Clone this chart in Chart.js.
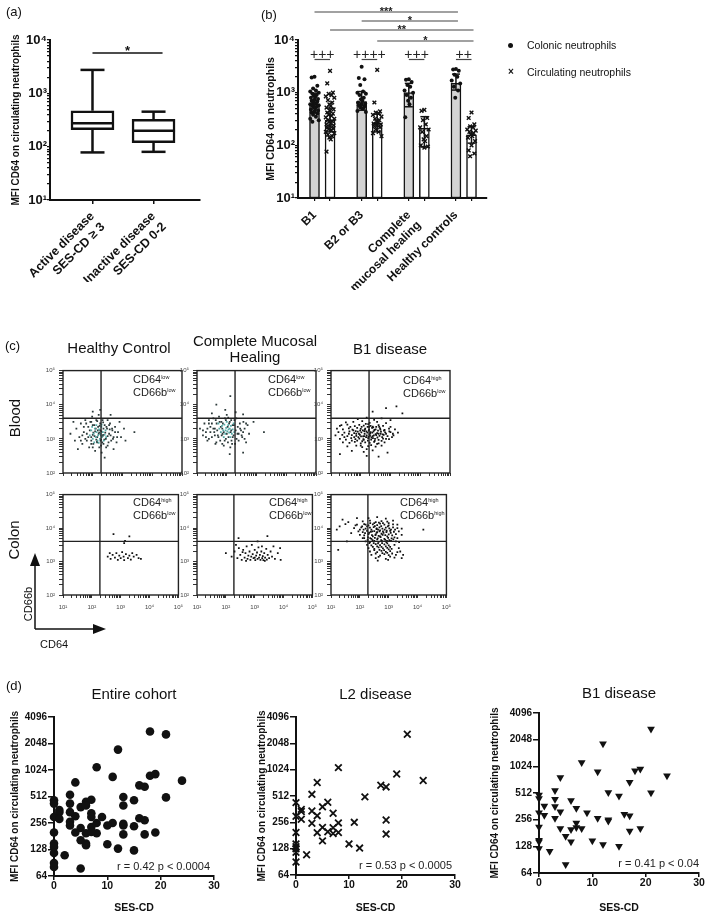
<!DOCTYPE html>
<html><head><meta charset="utf-8"><title>CD64 on neutrophils</title>
<script src="https://cdn.jsdelivr.net/npm/chart.js@4.4.1/dist/chart.umd.min.js"></script>
<style>
html,body{margin:0;padding:0;background:#fff}
body{width:709px;height:918px;position:relative;overflow:hidden;font-family:"Liberation Sans",Arial,Helvetica,sans-serif;color:#111}
.t{position:absolute;white-space:nowrap;line-height:1;filter:grayscale(1)}
.rot{position:absolute;white-space:nowrap;line-height:1;transform:translate(-50%,-50%) rotate(-90deg);filter:grayscale(1)}
.q{position:absolute;white-space:nowrap;font-size:11px;line-height:13px;color:#222;filter:grayscale(1)}
.q sup{font-size:5.5px;vertical-align:4px;line-height:0}
canvas{position:absolute}
</style></head><body>
<div class="t" style="left:6px;top:5px;font-size:13px">(a)</div>
<div class="t" style="left:261px;top:8px;font-size:13px">(b)</div>
<div class="t" style="left:5px;top:339px;font-size:13px">(c)</div>
<div class="t" style="left:6px;top:679px;font-size:13px">(d)</div>

<div style="position:absolute;left:508px;top:43px;width:5px;height:5px;border-radius:50%;background:#111"></div>
<div class="t" style="left:527px;top:40px;font-size:10.5px">Colonic neutrophils</div>
<div class="t" style="left:508px;top:67px;font-size:10px;font-weight:bold">×</div>
<div class="t" style="left:527px;top:67px;font-size:10.5px">Circulating neutrophils</div>

<div class="t" style="left:49px;top:340px;width:140px;text-align:center;font-size:15px">Healthy Control</div>
<div class="t" style="left:175px;top:333px;width:160px;text-align:center;font-size:15px;line-height:16px">Complete Mucosal<br>Healing</div>
<div class="t" style="left:330px;top:341px;width:120px;text-align:center;font-size:15px">B1 disease</div>
<div class="rot" style="left:14px;top:418px;font-size:15px">Blood</div>
<div class="rot" style="left:13px;top:540px;font-size:15px">Colon</div>

<div class="q" style="left:133px;top:373px">CD64<sup>low</sup><br>CD66b<sup>low</sup></div>
<div class="q" style="left:268px;top:373px">CD64<sup>low</sup><br>CD66b<sup>low</sup></div>
<div class="q" style="left:403px;top:374px">CD64<sup>high</sup><br>CD66b<sup>low</sup></div>
<div class="q" style="left:133px;top:496px">CD64<sup>high</sup><br>CD66b<sup>low</sup></div>
<div class="q" style="left:269px;top:496px">CD64<sup>high</sup><br>CD66b<sup>low</sup></div>
<div class="q" style="left:400px;top:496px">CD64<sup>high</sup><br>CD66b<sup>high</sup></div>

<svg style="position:absolute;left:0;top:540px" width="120" height="100">
<line x1="35" y1="89" x2="35" y2="24" stroke="#111" stroke-width="1.5"/>
<polygon points="35,13 30,26 40,26" fill="#111"/>
<line x1="35" y1="89" x2="95" y2="89" stroke="#111" stroke-width="1.5"/>
<polygon points="106,89 93,84 93,94" fill="#111"/>
</svg>
<div class="rot" style="left:28px;top:604px;font-size:11px">CD66b</div>
<div class="t" style="left:40px;top:639px;font-size:11px">CD64</div>

<script>
// ================= DATA =================
// (a) box plot
const boxGroups = [['Active disease', 'SES-CD ≥ 3'], ['Inactive disease', 'SES-CD 0-2']];
const boxMin    = [78, 80];
const boxQ1     = [208, 119];
const boxMedian = [274, 199];
const boxQ3     = [472, 324];
const boxMax    = [2750, 453];
const boxSignif = '*';

// (b) bars with individual points
const barGroups   = ['B1', 'B2 or B3', ['Complete', 'mucosal healing'], 'Healthy controls'];
const seriesNames = ['Colonic neutrophils', 'Circulating neutrophils'];
const colonicMean   = [600, 680, 1000, 1510];
const colonicSdLow  = [410, 465, 540, 1120];
const colonicSdHigh = [980, 1050, 1500, 2250];
const circMean      = [300, 265, 210, 158];
const circSdLow     = [180, 180, 93, 110];
const circSdHigh    = [510, 390, 350, 225];
const colonicPoints = [
  [2000,1950,1350,1200,1100,1050,1000,950,900,870,830,800,760,730,700,680,650,630,600,580,560,540,520,500,480,460,440,420,400,380,350,320,300,280],
  [3100,1900,1800,1400,1050,1000,950,900,800,750,700,650,620,600,580,550,520,500,450,430],
  [1800,1750,1600,1400,1300,1100,1000,900,800,700,600,340],
  [2800,2750,2600,2200,2000,1700,1500,1300,1100,800]
];
const circPoints = [
  [2600,1500,1000,950,900,850,800,720,650,600,560,520,480,450,420,400,380,360,340,320,300,290,280,260,250,240,230,220,210,200,190,180,170,160,150,140,130,76],
  [2700,650,440,420,400,380,350,320,300,280,270,260,250,240,230,220,200,180,170,150],
  [470,450,330,300,250,220,200,180,150,130,120,100,95,90],
  [420,330,250,230,220,200,190,180,170,160,150,140,120,100,80,70,62]
];
const pairSignif  = ['+++', '++++', '+++', '++'];
const crossSignif = [
  {a: [0, 0], b: [3, 0], label: '***'},
  {a: [1, 0], b: [3, 0], label: '*'},
  {a: [0, 1], b: [3, 1], label: '**'},
  {a: [1, 1], b: [3, 1], label: '*'}
];

// (c) flow cytometry events as [log10 CD64, log10 CD66b]
const gateCD64 = 190, gateCD66b = 4000;
const hcBloodCore = [[1.9,3.1],[1.95,3.25],[2.0,3.0],[2.03,3.15],[2.07,3.3],[2.1,3.05],[2.13,3.2],[2.16,2.95],[2.18,3.1],[2.21,3.28],[2.24,3.0],[2.26,3.15],[2.29,3.35],[2.31,3.05],[2.34,3.2],[2.37,2.95],[2.4,3.12],[2.43,3.25],[2.12,3.4],[2.2,2.88],[2.05,2.9],[2.3,3.42],[2.45,3.05],[1.98,3.35],[2.27,3.1]];
const hcBloodPts = [[1.25,3.15],[1.4,2.95],[1.45,3.3],[1.55,3.05],[1.6,3.45],[1.65,2.85],[1.7,3.2],[1.75,3.55],[1.8,2.95],[1.85,3.35],[1.88,2.75],[1.92,3.5],[1.95,3.05],[1.98,3.65],[2.02,2.85],[2.05,3.4],[2.08,2.65],[2.12,3.55],[2.15,2.9],[2.2,3.7],[2.22,2.75],[2.25,3.45],[2.3,2.6],[2.33,3.55],[2.36,2.85],[2.4,3.4],[2.44,3.0],[2.48,3.3],[2.5,2.8],[2.55,3.15],[2.58,3.45],[2.62,2.95],[2.66,3.25],[2.7,3.05],[2.75,3.35],[2.8,2.9],[2.85,3.2],[2.95,3.05],[3.05,3.3],[3.4,3.2],[1.5,2.7],[2.0,3.8],[2.6,3.7],[2.4,2.45],[2.25,3.85],[1.35,3.5],[2.9,3.5],[1.8,3.15],[2.7,2.7],[3.1,2.95],[2.0,3.12],[2.08,3.22],[2.15,3.05],[2.22,3.18],[2.28,2.98],[2.35,3.12],[2.12,2.98],[2.25,3.25],[2.18,3.35],[2.32,2.9],
  [1.85,3.05],[1.9,3.25],[1.95,2.95],[2.0,3.4],[2.02,3.18],[2.06,3.08],[2.1,3.3],[2.14,2.92],[2.17,3.25],[2.2,3.15],[2.23,3.38],[2.26,2.95],[2.29,3.22],[2.33,3.08],[2.36,3.3],[2.39,2.98],[2.42,3.18],[2.46,3.35],[2.5,3.08],[2.53,2.9],[2.57,3.28],[2.6,3.1],[1.7,3.35],[1.75,3.0],[1.78,3.45],[1.95,3.5],[2.15,3.52],[2.35,3.48],[2.5,3.55],[2.65,3.3],[2.68,3.0],[1.65,3.1],[1.6,2.95],[2.0,2.75],[2.28,2.8],[2.45,2.75],[2.75,3.2],[2.82,3.05],[1.95,2.85],[2.55,3.4]];
const cmhBloodCore = [[1.75,3.3],[1.8,3.2],[1.84,3.38],[1.88,3.25],[1.92,3.42],[1.95,3.15],[1.98,3.32],[2.02,3.22],[2.05,3.4],[2.08,3.18],[2.1,3.3],[2.14,3.38],[2.17,3.15],[2.2,3.28],[2.23,3.45],[1.9,3.05],[2.0,3.5],[2.12,3.05],[1.72,3.45],[2.25,3.2],[1.96,3.25],[2.06,3.28]];
const cmhBloodPts = [[1.1,3.3],[1.2,3.1],[1.25,3.45],[1.3,3.2],[1.35,2.95],[1.4,3.55],[1.45,3.35],[1.5,3.05],[1.55,3.6],[1.58,3.2],[1.62,2.85],[1.66,3.45],[1.7,3.1],[1.74,3.65],[1.78,2.95],[1.82,3.5],[1.86,3.15],[1.9,2.8],[1.94,3.6],[1.97,3.0],[2.0,3.7],[2.04,2.9],[2.08,3.45],[2.12,2.75],[2.15,3.55],[2.2,3.05],[2.24,3.4],[2.28,2.85],[2.32,3.6],[2.36,3.15],[2.4,2.95],[2.44,3.45],[2.48,3.25],[2.52,3.05],[2.56,3.5],[2.6,3.3],[2.65,2.9],[2.7,3.4],[2.75,3.15],[1.5,3.75],[1.95,3.85],[2.3,3.78],[2.55,3.72],[3.25,3.2],[2.55,2.6],[2.1,2.55],[1.6,3.3],[1.85,3.3],[2.15,3.25],[1.4,3.0],[2.12,4.25],[2.9,3.5],[1.65,4.0],
  [1.45,3.2],[1.5,3.45],[1.55,3.3],[1.6,3.1],[1.63,3.55],[1.68,3.25],[1.72,3.05],[1.76,3.5],[1.8,3.35],[1.83,3.1],[1.87,3.45],[1.9,3.2],[1.93,2.95],[1.97,3.55],[2.0,3.15],[2.03,3.35],[2.06,3.05],[2.1,3.5],[2.13,3.2],[2.16,2.95],[2.2,3.4],[2.23,3.1],[2.26,3.55],[2.3,3.25],[2.33,3.0],[2.37,3.35],[2.4,3.15],[2.45,3.3],[2.5,3.1],[2.55,3.2],[1.35,3.3],[1.3,3.05],[1.4,3.45],[1.2,3.25],[1.65,2.9],[1.85,2.85],[2.18,2.85],[2.6,3.0],[2.65,3.45],[2.05,3.62]];
const b1BloodPts = [[1.9,3.58],[2.2,3.62],[2.45,3.56],[2.7,3.6],[3.0,3.55],[1.5,3.48],[1.75,3.5],[2.05,3.52],[2.3,3.47],[2.55,3.5],[2.85,3.46],[1.3,3.38],[1.55,3.42],[1.8,3.37],[1.95,3.41],[2.1,3.39],[2.25,3.43],[2.4,3.36],[2.6,3.4],[2.75,3.38],[3.0,3.35],[1.2,3.3],[1.4,3.28],[1.6,3.31],[1.72,3.27],[1.88,3.32],[2.0,3.29],[2.15,3.3],[2.28,3.27],[2.38,3.32],[2.5,3.28],[2.65,3.31],[2.8,3.26],[2.95,3.3],[3.15,3.28],[1.25,3.2],[1.45,3.18],[1.62,3.22],[1.78,3.17],[1.9,3.21],[2.02,3.19],[2.12,3.23],[2.22,3.18],[2.33,3.2],[2.43,3.22],[2.55,3.17],[2.68,3.21],[2.82,3.19],[3.0,3.2],[3.25,3.18],[1.15,3.1],[1.38,3.12],[1.55,3.08],[1.7,3.11],[1.85,3.09],[1.97,3.12],[2.08,3.07],[2.2,3.1],[2.3,3.13],[2.4,3.08],[2.52,3.11],[2.63,3.09],[2.77,3.12],[2.9,3.08],[3.1,3.1],[1.3,3.0],[1.5,2.98],[1.68,3.02],[1.82,2.99],[1.95,3.01],[2.1,2.97],[2.25,3.02],[2.35,2.98],[2.48,3.0],[2.6,2.97],[2.75,3.01],[2.95,2.99],[1.4,2.9],[1.62,2.88],[1.8,2.91],[2.0,2.87],[2.15,2.9],[2.3,2.88],[2.45,2.91],[2.6,2.87],[2.8,2.9],[1.55,2.78],[1.85,2.8],[2.05,2.76],[2.25,2.79],[2.5,2.77],[2.7,2.8],[1.7,2.65],[2.1,2.62],[2.4,2.66],[2.9,2.6],[2.2,2.5],[2.6,2.48],[1.3,2.55],[3.2,3.95],[2.85,3.9],[3.4,3.75],[2.4,3.8],
  [1.65,3.35],[1.75,3.25],[1.85,3.15],[1.92,3.05],[2.03,3.35],[2.07,3.25],[2.13,3.15],[2.18,3.05],[2.23,3.35],[2.27,3.24],[2.32,3.16],[2.36,3.04],[2.42,3.34],[2.46,3.26],[2.5,3.14],[2.56,3.04],[2.62,3.35],[2.67,3.15],[2.72,3.05],[2.78,3.24],[1.78,3.05],[1.88,2.95],[1.98,3.24],[2.05,2.93],[2.17,3.44],[2.33,3.38],[2.47,2.94],[2.58,3.24],[2.7,2.94],[2.85,3.15],[1.6,3.15],[1.7,2.95],[2.0,2.8],[2.2,2.7],[2.35,2.82],[2.55,2.85],[2.85,3.0],[3.05,3.05],[1.45,3.05],[1.35,3.4],[2.12,3.08],[2.26,3.06],[2.39,3.18],[2.14,3.27],[2.28,3.35],[1.94,3.15],[2.44,3.1],[2.6,3.15],[2.01,3.07],[2.52,3.35],[2.09,2.99],[2.19,3.22],[2.31,3.09],[2.41,3.02],[1.83,3.23],[2.66,3.27],[2.74,3.13],[2.24,2.95],[2.96,3.22],[3.08,3.15]];
const hcColonPts = [[2.55,3.15],[2.65,3.08],[2.72,3.2],[2.8,3.12],[2.85,3.25],[2.9,3.05],[2.95,3.18],[3.0,3.1],[3.05,3.28],[3.1,3.15],[3.12,3.04],[3.18,3.22],[3.25,3.1],[3.3,3.18],[3.35,3.06],[3.45,3.15],[3.55,3.2],[3.62,3.1],[3.7,3.08],[2.75,3.82],[3.15,3.62],[3.3,3.75],[3.12,3.55],[2.62,3.25],[3.4,3.25]];
const cmhColonPts = [[2.0,3.25],[2.2,3.15],[2.3,3.3],[2.4,3.1],[2.45,3.4],[2.5,3.2],[2.55,3.05],[2.6,3.35],[2.65,3.12],[2.68,3.25],[2.72,3.45],[2.75,3.08],[2.78,3.18],[2.82,3.3],[2.85,3.05],[2.88,3.15],[2.9,3.5],[2.93,3.22],[2.96,3.1],[3.0,3.35],[3.02,3.04],[3.05,3.18],[3.08,3.27],[3.1,3.08],[3.13,3.42],[3.15,3.12],[3.18,3.2],[3.2,3.05],[3.23,3.3],[3.26,3.1],[3.28,3.16],[3.3,3.04],[3.33,3.25],[3.36,3.12],[3.4,3.38],[3.42,3.06],[3.45,3.2],[3.5,3.1],[3.55,3.3],[3.6,3.15],[3.65,3.45],[3.7,3.08],[3.8,3.25],[3.88,3.4],[3.9,3.05],[2.44,3.7],[3.44,3.76],[3.1,3.6],[2.35,3.5],[3.0,3.12],[2.7,3.02],[3.35,3.02],[3.25,3.45],[2.58,3.28]];
const b1ColonPts = [[2.3,4.3],[2.6,4.33],[2.9,4.28],[1.4,4.25],[2.1,4.2],[2.35,4.22],[2.55,4.18],[2.75,4.21],[2.95,4.19],[3.15,4.22],[1.6,4.18],[1.9,4.1],[2.15,4.12],[2.3,4.08],[2.45,4.11],[2.6,4.09],[2.7,4.13],[2.85,4.1],[3.0,4.08],[3.15,4.11],[3.3,4.1],[1.8,4.0],[2.05,4.02],[2.2,3.98],[2.35,4.01],[2.48,4.03],[2.58,3.99],[2.68,4.02],[2.78,3.98],[2.9,4.01],[3.02,3.99],[3.15,4.02],[3.3,4.0],[3.45,3.98],[1.95,3.9],[2.1,3.88],[2.25,3.92],[2.38,3.89],[2.5,3.91],[2.6,3.88],[2.7,3.93],[2.8,3.9],[2.92,3.88],[3.05,3.92],[3.18,3.89],[3.35,3.9],[2.0,3.8],[2.15,3.78],[2.3,3.82],[2.42,3.79],[2.55,3.81],[2.65,3.77],[2.75,3.83],[2.88,3.79],[3.0,3.81],[3.12,3.78],[3.25,3.82],[3.45,3.8],[2.1,3.7],[2.28,3.72],[2.4,3.68],[2.52,3.71],[2.62,3.69],[2.72,3.73],[2.85,3.68],[2.98,3.71],[3.1,3.69],[3.3,3.7],[2.2,3.6],[2.35,3.58],[2.5,3.62],[2.65,3.59],[2.78,3.61],[2.92,3.58],[3.08,3.62],[3.25,3.6],[2.25,3.5],[2.4,3.48],[2.55,3.52],[2.7,3.49],[2.85,3.51],[3.0,3.48],[3.2,3.5],[2.3,3.4],[2.5,3.38],[2.65,3.42],[2.8,3.39],[2.95,3.41],[3.1,3.38],[3.35,3.4],[2.35,3.3],[2.6,3.28],[2.75,3.32],[2.9,3.29],[3.05,3.31],[3.3,3.28],[2.4,3.2],[2.7,3.18],[2.85,3.22],[3.0,3.19],[3.25,3.2],[2.55,3.1],[2.9,3.08],[3.2,3.12],[3.45,3.1],[1.3,4.05],[1.2,3.95],[1.5,4.12],[1.25,3.35],[1.7,3.85],[1.55,3.6],[4.2,3.95],
  [2.25,4.05],[2.4,3.95],[2.52,4.06],[2.63,3.95],[2.74,4.06],[2.86,3.95],[2.97,4.05],[3.08,3.95],[2.32,3.86],[2.45,3.75],[2.58,3.86],[2.7,3.75],[2.82,3.86],[2.95,3.75],[3.07,3.86],[2.18,3.85],[2.27,3.65],[2.44,3.64],[2.6,3.66],[2.74,3.64],[2.88,3.65],[3.02,3.64],[3.16,3.66],[2.36,4.15],[2.5,4.15],[2.66,4.16],[2.8,4.15],[3.0,4.15],[2.2,4.1],[3.22,3.95],[2.33,3.55],[2.48,3.55],[2.63,3.54],[2.77,3.55],[2.95,3.54],[2.45,3.44],[2.6,3.45],[2.75,3.44],[2.9,3.45],[3.05,3.44],[2.5,3.34],[2.68,3.35],[2.84,3.34],[3.0,3.36],[2.55,3.24],[2.78,3.25],[2.95,3.26],[3.12,3.24],[2.65,3.14],[3.05,3.15],[2.0,3.95],[2.08,4.05],[1.85,4.08],[2.13,3.95],[2.58,3.97],[2.68,3.9],[2.43,3.9],[2.93,3.92],[2.54,3.79],[2.79,3.8],[3.2,3.72],[2.15,3.7],[2.36,3.7],[2.94,3.62],[3.36,3.58],[3.4,3.3],[2.98,3.05],[2.62,3.03],[3.5,3.2],[1.9,4.3]];

// (d) correlations
const scatterTitles = ['Entire cohort', 'L2 disease', 'B1 disease'];
const corrLabels = ['r = 0.42 p < 0.0004', 'r = 0.53 p < 0.0005', 'r = 0.41 p < 0.04'];
const log2Ticks = [64, 128, 256, 512, 1024, 2048, 4096];
const cohortSes = [18,21,12,8,11,18,19,24,4,16,17,3,13,21,0,0,0,0,0,0,0,0,0,15,7,6,3,13,5,6,1,1,4,3,7,7,9,16,17,1,3,3,11,10,13,13,15,5,7,8,6,8,4,7,13,17,19,5,6,6,10,12,15,2,5];
const cohortMfi = [2800,2600,1745,1100,855,880,920,775,740,685,660,535,505,500,465,425,300,200,150,137,117,90,81,465,470,445,425,405,388,405,360,340,305,340,330,300,300,290,275,285,265,240,256,240,250,240,235,225,230,256,196,196,200,203,190,190,200,163,150,143,147,131,125,110,78];
const l2Ses = [21,8,19,24,4,16,17,3,13,6,0,5,1,1,3,7,4,0,1,17,11,3,8,5,7,0,4,6,7,8,17,5,10,0,0,0,12,2,0,0];
const l2Mfi = [2600,1080,915,770,730,680,650,535,500,435,430,385,360,340,345,325,305,300,278,272,256,250,252,224,222,196,195,200,191,196,188,157,145,145,135,128,130,109,90,116];
const b1Ses = [21,12,8,11,18,19,24,4,17,3,13,21,15,0,0,3,6,1,3,7,4,0,9,1,16,17,11,13,13,3,7,0,4,6,7,8,19,17,5,6,0,0,10,12,15,0,2,5];
const b1Mfi = [2700,1840,1130,890,915,955,800,765,675,545,520,515,475,485,445,435,420,365,360,345,315,306,306,288,295,283,265,256,248,265,235,212,204,198,209,204,204,191,166,144,150,144,148,134,128,121,113,80];

// ================= HELPERS =================
const FONT = '"Liberation Sans", Arial, Helvetica, sans-serif';
Chart.defaults.font.family = FONT;
Chart.defaults.color = '#111';
Chart.defaults.animation = false;
Chart.defaults.events = [];
Chart.defaults.plugins.legend.display = false;
Chart.defaults.plugins.tooltip.enabled = false;

const SUP = {'0':'⁰','1':'¹','2':'²','3':'³','4':'⁴','5':'⁵','6':'⁶'};
function pow10Label(v) {
  const e = Math.log10(v), r = Math.round(e);
  return Math.abs(e - r) < 1e-6 ? '10' + String(r).split('').map(c => SUP[c]).join('') : '';
}
function logTicks(minE, maxE) {
  const t = [];
  for (let e = minE; e < maxE; e++) for (let k = 1; k < 10; k++) t.push({value: k * Math.pow(10, e)});
  t.push({value: Math.pow(10, maxE)});
  return t;
}
function mk(left, top, w, h) {
  const c = document.createElement('canvas');
  c.width = w; c.height = h;
  c.style.left = left + 'px'; c.style.top = top + 'px';
  c.style.width = w + 'px'; c.style.height = h + 'px';
  document.body.appendChild(c);
  return c;
}
function grid(len, w, color) {
  return {display: true, drawOnChartArea: false, drawTicks: true, tickLength: len, color: color || '#111', lineWidth: w, offset: false};
}
function seg(ctx, x1, y1, x2, y2) { ctx.beginPath(); ctx.moveTo(x1, y1); ctx.lineTo(x2, y2); ctx.stroke(); }

// ================= (a) =================
const boxPlugin = {
  id: 'boxWhiskers',
  afterDatasetsDraw(c) {
    const {ctx, scales: {x, y}, chartArea: a} = c;
    ctx.save();
    ctx.strokeStyle = '#111'; ctx.lineWidth = 2.5;
    boxMedian.forEach((m, i) => {
      const cx = x.getPixelForValue(i), hw = 21.5, cap = 12;
      const yMax = y.getPixelForValue(boxMax[i]), yMin = y.getPixelForValue(boxMin[i]);
      seg(ctx, cx, y.getPixelForValue(boxQ3[i]), cx, yMax);
      seg(ctx, cx, y.getPixelForValue(boxQ1[i]), cx, yMin);
      seg(ctx, cx - cap, yMax, cx + cap, yMax);
      seg(ctx, cx - cap, yMin, cx + cap, yMin);
      seg(ctx, cx - hw, y.getPixelForValue(m), cx + hw, y.getPixelForValue(m));
    });
    const x1 = x.getPixelForValue(0), x2 = x.getPixelForValue(1) + 9, ly = a.top + 13;
    ctx.lineWidth = 1.3;
    seg(ctx, x1, ly, x2, ly);
    ctx.fillStyle = '#111'; ctx.font = 'bold 13px ' + FONT; ctx.textAlign = 'center'; ctx.textBaseline = 'alphabetic';
    ctx.fillText(boxSignif, (x1 + x2) / 2, ly + 2);
    ctx.restore();
  }
};
new Chart(mk(0, 0, 240, 282), {
  type: 'bar',
  data: {datasets: [{
    label: 'IQR',
    data: boxQ1.map((q, i) => ({x: i, y: [q, boxQ3[i]]})),
    backgroundColor: '#fff', borderColor: '#111', borderWidth: 2.5, borderSkipped: false,
    barThickness: 43, grouped: false
  }]},
  options: {
    responsive: false,
    layout: {padding: {left: 10, top: 40, right: 40, bottom: 0}},
    scales: {
      x: {type: 'linear', min: -0.696, max: 1.761, offset: false,
        afterBuildTicks: s => { s.ticks = [{value: 0}, {value: 1}]; },
        afterFit: s => { s.height = 82; },
        grid: grid(4, 1.5), border: {color: '#111', width: 2},
        ticks: {autoSkip: false, minRotation: 45, maxRotation: 45, padding: 5, color: '#111',
          font: {size: 12.5, weight: 'bold'}, callback: (v, i) => boxGroups[i]}},
      y: {type: 'logarithmic', min: 10, max: 10000,
        afterBuildTicks: s => { s.ticks = logTicks(1, 4); },
        afterFit: s => { s.width = 40; },
        grid: grid(3, 1.2), border: {color: '#111', width: 2},
        ticks: {autoSkip: false, padding: 0, color: '#111', font: {size: 13, weight: 'bold'}, callback: v => pow10Label(v)},
        title: {display: true, text: 'MFI CD64 on circulating neutrophils', padding: 0, color: '#111', font: {size: 10, weight: 'bold'}}}
    }
  },
  plugins: [boxPlugin]
});

// ================= (b) =================
const OFF = [-0.15, 0.18];
const JIT = [0, -0.06, 0.06, -0.03, 0.03, -0.09, 0.09, -0.045, 0.045, -0.015, 0.015, -0.075, 0.075];
function swarm(groups, s) {
  const out = [];
  groups.forEach((vals, g) => vals.forEach((v, i) => out.push({x: g + OFF[s] + JIT[i % JIT.length], y: v})));
  return out;
}
const errPlugin = {
  id: 'errAndSignif',
  afterDatasetsDraw(c) {
    const {ctx, scales: {x, y}, chartArea: a} = c;
    ctx.save();
    ctx.strokeStyle = '#111'; ctx.lineWidth = 1.5;
    [[colonicSdLow, colonicSdHigh], [circSdLow, circSdHigh]].forEach(([lo, hi], s) => lo.forEach((l, g) => {
      const px = x.getPixelForValue(g + OFF[s]);
      const y1 = y.getPixelForValue(l), y2 = y.getPixelForValue(hi[g]);
      seg(ctx, px, y1, px, y2); seg(ctx, px - 4, y1, px + 4, y1); seg(ctx, px - 4, y2, px + 4, y2);
    }));
    ctx.strokeStyle = '#444'; ctx.lineWidth = 1.2; ctx.fillStyle = '#222';
    ctx.textAlign = 'center'; ctx.textBaseline = 'alphabetic';
    ctx.font = '14px ' + FONT;
    pairSignif.forEach((lab, g) => {
      const x1 = x.getPixelForValue(g + OFF[0]), x2 = x.getPixelForValue(g + OFF[1]);
      seg(ctx, x1, a.top + 19.5, x2, a.top + 19.5);
      ctx.fillText(lab, (x1 + x2) / 2, a.top + 18.5);
    });
    ctx.font = 'bold 11px ' + FONT;
    const rowsY = [-28, -19, -10, 1];
    crossSignif.forEach((s, k) => {
      const x1 = x.getPixelForValue(s.a[0] + OFF[s.a[1]]), x2 = x.getPixelForValue(s.b[0] + OFF[s.b[1]]) + 2;
      const ly = a.top + rowsY[k];
      seg(ctx, x1, ly, x2, ly);
      ctx.fillText(s.label, (x1 + x2) / 2, ly + 2.5);
    });
    ctx.restore();
  }
};
new Chart(mk(240, 0, 252, 290), {
  type: 'bar',
  data: {datasets: [
    {type: 'scatter', label: seriesNames[0], data: swarm(colonicPoints, 0), pointStyle: 'circle', pointRadius: 2,
      backgroundColor: '#111', borderWidth: 0, order: 0},
    {type: 'scatter', label: seriesNames[1], data: swarm(circPoints, 1), pointStyle: 'crossRot', pointRadius: 2.6,
      borderColor: '#111', borderWidth: 1.4, order: 0},
    {type: 'bar', label: seriesNames[0] + ' mean', data: colonicMean.map((m, g) => ({x: g + OFF[0], y: m})),
      backgroundColor: '#d3d3d3', borderColor: '#111', borderWidth: 1.5, borderSkipped: false, barThickness: 10, grouped: false, order: 1},
    {type: 'bar', label: seriesNames[1] + ' mean', data: circMean.map((m, g) => ({x: g + OFF[1], y: m})),
      backgroundColor: '#fff', borderColor: '#111', borderWidth: 1.5, borderSkipped: false, barThickness: 10, grouped: false, order: 1}
  ]},
  options: {
    responsive: false,
    layout: {padding: {left: 25, top: 40, right: 4, bottom: 0}},
    scales: {
      x: {type: 'linear', min: -0.5, max: 3.5, offset: false,
        afterBuildTicks: s => { s.ticks = barGroups.flatMap((_, g) => [{value: g + OFF[0]}, {value: g + OFF[1]}]); },
        afterFit: s => { s.height = 92; },
        grid: grid(3, 1.2), border: {color: '#111', width: 2},
        ticks: {autoSkip: false, minRotation: 45, maxRotation: 45, padding: 7, color: '#111',
          font: {size: 12, weight: 'bold'}, callback: (v, i) => (i % 2 === 0 ? barGroups[i / 2] : '')}},
      y: {type: 'logarithmic', min: 10, max: 10000,
        afterBuildTicks: s => { s.ticks = logTicks(1, 4); },
        afterFit: s => { s.width = 33; },
        grid: grid(3, 1.2), border: {color: '#111', width: 2},
        ticks: {autoSkip: false, padding: 0, color: '#111', font: {size: 13, weight: 'bold'}, callback: v => pow10Label(v)},
        title: {display: true, text: 'MFI CD64 on neutrophils', padding: 0, color: '#111', font: {size: 10.5, weight: 'bold'}}}
    }
  },
  plugins: [errPlugin]
});

// ================= (c) =================
const flowLeft = [63, 197, 331], flowTop = [369, 493], flowH = [104, 102];
const framePlugin = {
  id: 'flowFrame',
  afterDatasetsDraw(c) {
    const {ctx, chartArea: a, scales: {x, y}} = c;
    ctx.save();
    ctx.strokeStyle = '#222'; ctx.lineWidth = 1.4;
    ctx.strokeRect(a.left, a.top, a.width, a.height);
    const gx = x.getPixelForValue(gateCD64), gy = y.getPixelForValue(gateCD66b);
    seg(ctx, gx, a.top, gx, a.bottom);
    seg(ctx, a.left, gy, a.right, gy);
    ctx.restore();
  }
};
function flowPanel(col, row, sets) {
  const xh = row ? 16 : 8;
  const c = mk(flowLeft[col] - 26, flowTop[row] - 6, 152, flowH[row] + 6 + xh);
  new Chart(c, {
    type: 'scatter',
    data: {datasets: sets.map(s => ({
      data: s.pts.map(p => ({x: Math.pow(10, p[0]), y: Math.pow(10, p[1])})),
      pointStyle: 'rect', pointRadius: 1.25, backgroundColor: s.color, borderWidth: 0
    }))},
    options: {
      responsive: false,
      layout: {padding: {left: 0, top: 6, right: 7, bottom: 0}},
      scales: {
        x: {type: 'logarithmic', min: 10, max: 100000,
          afterBuildTicks: s => { s.ticks = logTicks(1, 5); },
          afterFit: s => { s.height = xh; },
          grid: grid(3, 1, '#333'), border: {display: false},
          ticks: {autoSkip: false, maxRotation: 0, minRotation: 0, padding: 6, color: '#444', font: {size: 6},
            callback: v => (row ? pow10Label(v) : '')}},
        y: {type: 'logarithmic', min: 100, max: 100000,
          afterBuildTicks: s => { s.ticks = logTicks(2, 5); },
          afterFit: s => { s.width = 26; },
          grid: grid(4, 1, '#333'), border: {display: false},
          ticks: {autoSkip: false, padding: 4, color: '#444', font: {size: 6}, callback: v => pow10Label(v)}}
      }
    },
    plugins: [framePlugin]
  });
}
const TEAL = '#55aaa6', SLATE = '#2c3a3a', BLACK = '#111';
flowPanel(0, 0, [{pts: hcBloodCore, color: TEAL}, {pts: hcBloodPts, color: SLATE}]);
flowPanel(1, 0, [{pts: cmhBloodCore, color: TEAL}, {pts: cmhBloodPts, color: SLATE}]);
flowPanel(2, 0, [{pts: b1BloodPts, color: BLACK}]);
flowPanel(0, 1, [{pts: hcColonPts, color: BLACK}]);
flowPanel(1, 1, [{pts: cmhColonPts, color: BLACK}]);
flowPanel(2, 1, [{pts: b1ColonPts, color: BLACK}]);

// ================= (d) =================
const corrPlugin = {
  id: 'corrText',
  afterDraw(c) {
    const o = c.options.plugins.corrText;
    const a = c.chartArea, ctx = c.ctx;
    ctx.save();
    ctx.fillStyle = '#222'; ctx.font = '11px ' + FONT; ctx.textAlign = 'right'; ctx.textBaseline = 'middle';
    ctx.fillText(o.text, a.right - o.dx, a.bottom - 9);
    ctx.restore();
  }
};
function scatterPanel(k, cfg) {
  new Chart(mk(cfg.left, 670, cfg.w, 248), {
    type: 'scatter',
    data: {datasets: [{
      label: scatterTitles[k],
      data: cfg.xs.map((v, i) => ({x: v, y: cfg.ys[i]})),
      pointStyle: cfg.style, pointRadius: cfg.r, rotation: cfg.rot || 0,
      backgroundColor: '#111', borderColor: '#111', borderWidth: cfg.bw, clip: false
    }]},
    options: {
      responsive: false,
      layout: {padding: {left: cfg.pl, top: 6, right: cfg.pr, bottom: 0}},
      plugins: {
        title: {display: true, text: scatterTitles[k], fullSize: false, color: '#111',
          font: {size: 15, weight: 'normal'}, padding: {top: cfg.tt, bottom: cfg.tb}},
        corrText: {text: corrLabels[k], dx: cfg.dx}
      },
      scales: {
        x: {type: 'linear', min: 0, max: 30,
          afterBuildTicks: s => { s.ticks = [0, 10, 20, 30].map(v => ({value: v})); },
          afterFit: s => { s.height = cfg.xh; },
          grid: grid(4, 1.5), border: {color: '#111', width: 2},
          ticks: {autoSkip: false, maxRotation: 0, padding: 0, color: '#111', font: {size: 10.5, weight: 'bold'}},
          title: {display: true, text: 'SES-CD', color: '#111', font: {size: 10.5, weight: 'bold'}, padding: {top: 0, bottom: 4}}},
        y: {type: 'logarithmic', min: 64, max: 4096,
          afterBuildTicks: s => { s.ticks = log2Ticks.map(v => ({value: v})); },
          afterFit: s => { s.width = cfg.yw; },
          grid: grid(6, 1.5), border: {color: '#111', width: 2},
          ticks: {autoSkip: false, padding: 1, color: '#111', font: {size: 10, weight: 'bold'}, callback: v => String(v)},
          title: {display: true, text: 'MFI CD64 on circulating neutrophils', padding: 0, color: '#111', font: {size: 10, weight: 'bold'}}}
      }
    },
    plugins: [corrPlugin]
  });
}
scatterPanel(0, {left: 0, w: 230, pl: 9, pr: 16, yw: 45, xh: 42, tt: 10, tb: 13, dx: 4,
  xs: cohortSes, ys: cohortMfi, style: 'circle', r: 4.3, bw: 0});
scatterPanel(1, {left: 230, w: 238, pl: 26, pr: 13, yw: 40, xh: 43, tt: 10, tb: 13, dx: 3,
  xs: l2Ses, ys: l2Mfi, style: 'crossRot', r: 4.7, bw: 1.8});
scatterPanel(2, {left: 460, w: 249, pl: 29, pr: 10, yw: 50, xh: 45, tt: 9, tb: 10, dx: 0,
  xs: b1Ses, ys: b1Mfi, style: 'triangle', r: 4.5, bw: 0, rot: 180});
</script>
</body></html>
